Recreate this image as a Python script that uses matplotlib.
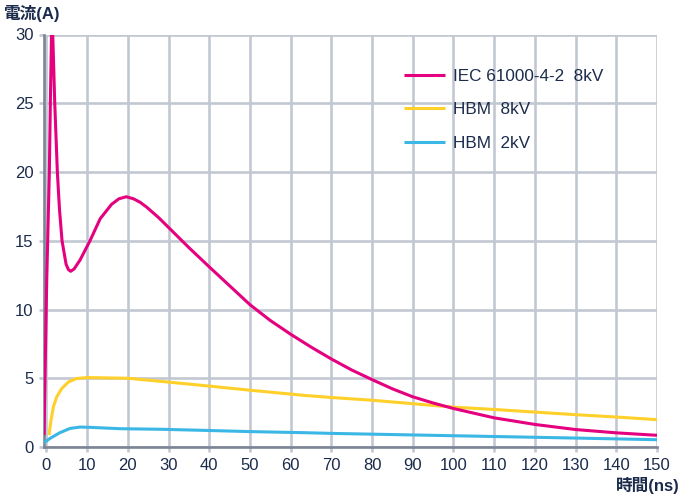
import matplotlib
matplotlib.use("Agg")
import matplotlib.pyplot as plt

plt.rcParams['font.family'] = ['Liberation Sans', 'Noto Sans CJK JP', 'DejaVu Sans']

# ---- data ----
iec_t = [-0.6, 0.07, 0.71, 0.96, 1.3, 1.55, 2.04, 2.68, 3.2, 3.83, 4.82, 5.4, 5.97, 6.8, 8.26,
         10.7, 13.2, 16.0, 17.8, 19.6, 21.4, 23.0, 24.6, 27.5, 30.4, 35, 40, 45.2, 50, 55, 60, 65,
         70, 75, 80, 85, 90, 95, 100, 110, 120, 130, 140, 150]
iec_i = [0.87, 12.1, 20.0, 25.0, 31.0, 30.0, 25.0, 20.0, 17.3, 15.0, 13.3, 12.9, 12.78, 12.95, 13.6,
         15.0, 16.6, 17.65, 18.05, 18.2, 18.05, 17.8, 17.45, 16.7, 15.85, 14.5, 13.1, 11.67, 10.35, 9.2, 8.2, 7.27,
         6.4, 5.6, 4.9, 4.23, 3.65, 3.2, 2.8, 2.12, 1.64, 1.27, 1.03, 0.85]

hbm8_t = [0.64, 1.13, 1.7, 2.53, 3.76, 5.4, 7.4, 9.9, 20, 30, 40, 50, 63.5,
          70, 80, 90, 100, 110, 120, 130, 140, 150]
hbm8_i = [0.87, 1.96, 2.92, 3.65, 4.25, 4.73, 4.98, 5.05, 5.0, 4.72, 4.43, 4.13, 3.75,
          3.6, 3.4, 3.15, 2.9, 2.73, 2.54, 2.35, 2.18, 1.99]

hbm2_t = [-0.6, 0.9, 3.3, 5.8, 8.26, 10.7, 18.1, 28, 40, 50, 63.5, 70, 100, 130, 150]
hbm2_i = [0.31, 0.63, 1.04, 1.35, 1.45, 1.43, 1.33, 1.29, 1.2, 1.12, 1.04, 0.99, 0.82, 0.65, 0.53]

labels = ['IEC 61000-4-2  8kV', 'HBM  8kV', 'HBM  2kV']
x_ticks = list(range(0, 151, 10))
y_ticks = list(range(0, 31, 5))

# ---- style ----
TEXT = '#1b2b4b'
GRID = '#c2c8d2'
SPINE = '#7c8596'
PINK = '#e5007f'
YELLOW = '#ffd02a'
BLUE = '#3bb7e5'

fig = plt.figure(figsize=(6.81, 4.95), dpi=100)
ax = fig.add_axes([44 / 681, 1 - 447 / 495, 613 / 681, 412.5 / 495])

common = dict(lw=2.2, solid_joinstyle='round', solid_capstyle='butt')
ax.plot(iec_t, iec_i, color=PINK, label=labels[0], zorder=5, **common)
ax.plot(hbm8_t, hbm8_i, color=YELLOW, label=labels[1], zorder=4, **common)
ax.plot(hbm2_t, hbm2_i, color=BLUE, label=labels[2], zorder=4, **common)

ax.set_xlim(-0.6, 150)
ax.set_ylim(0, 30)
ax.set_xticks(x_ticks)
ax.set_yticks(y_ticks)
ax.grid(True, color=GRID, lw=1.9)
ax.set_axisbelow(True)
for s in ['top', 'right']:
    ax.spines[s].set_visible(False)
for s in ['left', 'bottom']:
    ax.spines[s].set_color(SPINE)
    ax.spines[s].set_linewidth(1.9)
ax.tick_params(length=3.6, width=1.9, color=GRID, labelcolor=TEXT, labelsize=12, pad=4)

leg = ax.legend(loc='upper left', bbox_to_anchor=(404 / 681, 1 - 69 / 495),
                bbox_transform=fig.transFigure, frameon=False, fontsize=12.3,
                handlelength=2.4, handletextpad=0.45, labelspacing=1.08,
                borderpad=0, borderaxespad=0)
for t in leg.get_texts():
    t.set_color(TEXT)

fig.text(3 / 681, 1 - 13 / 495, '電流(A)', ha='left', va='center', fontsize=12,
         fontweight='bold', color=TEXT)
fig.text(680 / 681, 1 - 485 / 495, '時間(ns)', ha='right', va='center', fontsize=12,
         fontweight='bold', color=TEXT)

fig.savefig('out.png', dpi=100)
